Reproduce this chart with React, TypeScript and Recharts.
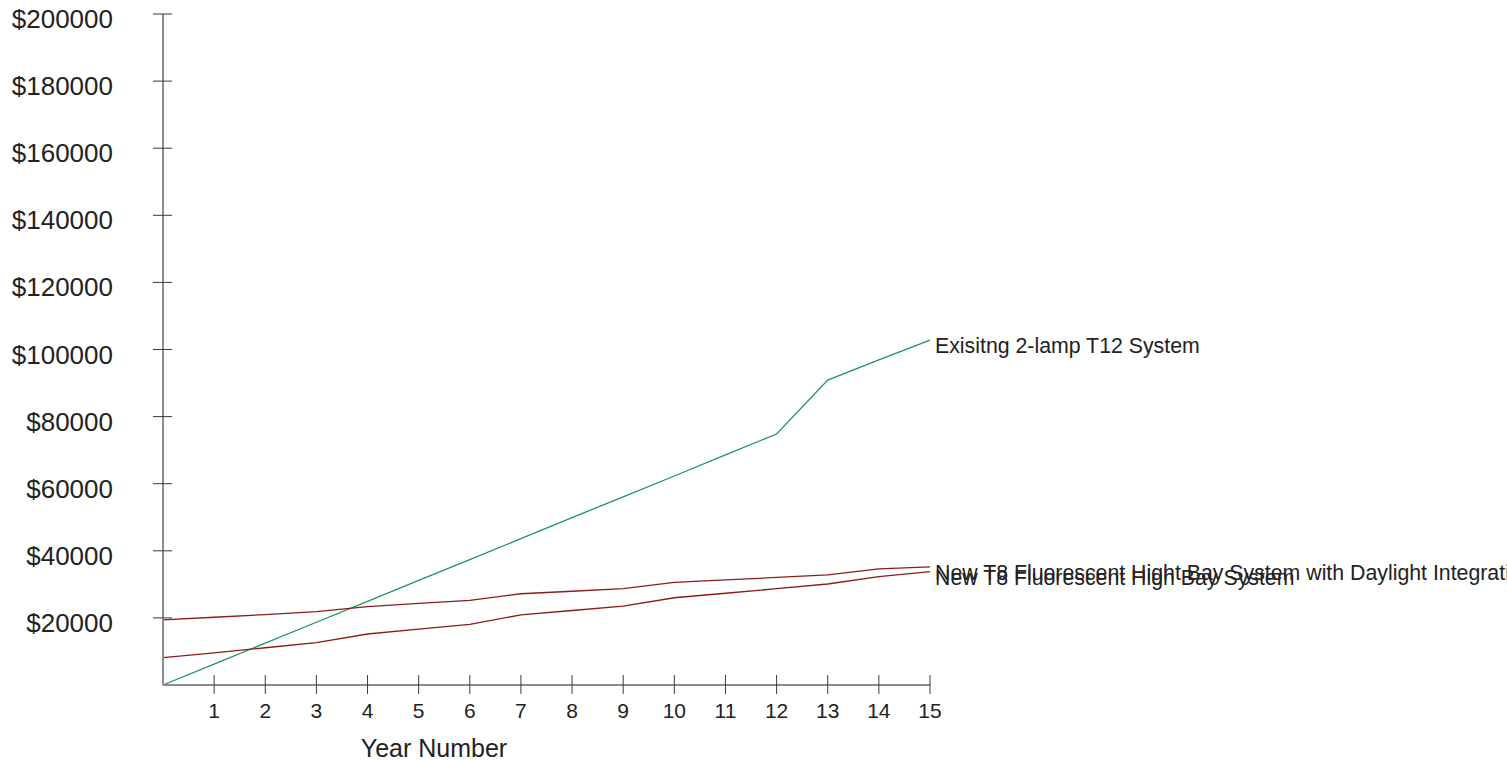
import { Label, Line, LineChart, XAxis, YAxis } from "recharts";

// colours
const C = {
  axis: "#8c8c8c",
  tick: "#3a3a3a",
  text: "#222222",
  green: "#23955a",
  red: "#8a1c1c",
};
const FONT = "'Liberation Sans', Arial, sans-serif";

const years = [0, 1, 2, 3, 4, 5, 6, 7, 8, 9, 10, 11, 12, 13, 14, 15];
const existingT12 = [
  0, 6200, 12500, 18700, 24900, 31200, 37400, 43600, 49900, 56100, 62300,
  68600, 74800, 90900, 96900, 102800,
];
const t8Daylight = [
  19400, 20200, 21000, 21850, 23350, 24300, 25250, 27200, 27950, 28700, 30600,
  31350, 32050, 32800, 34600, 35200,
];
const t8HighBay = [
  8150, 9600, 11100, 12600, 15200, 16650, 18100, 20900, 22200, 23500, 26000,
  27350, 28700, 30100, 32300, 33800,
];
const xTicks = [1, 2, 3, 4, 5, 6, 7, 8, 9, 10, 11, 12, 13, 14, 15];
const yTicks = [
  20000, 40000, 60000, 80000, 100000, 120000, 140000, 160000, 180000, 200000,
];

const seriesNames = {
  existing: "Exisitng 2-lamp T12 System",
  daylight: "New T8 Fluorescent Hight Bay System with Daylight Integration",
  highBay: "New T8 Fluorescent High Bay System",
};

const data = years.map((year, i) => ({
  year,
  existing: existingT12[i],
  daylight: t8Daylight[i],
  highBay: t8HighBay[i],
}));

function YTick({ x, y, payload }: any) {
  return (
    <g>
      <line x1={x - 10} x2={x + 9} y1={y} y2={y} stroke={C.tick} />
      <text
        x={x - 50}
        y={y + 14}
        textAnchor="end"
        fontSize={26}
        fontFamily={FONT}
        fill={C.text}
      >
        ${payload.value}
      </text>
    </g>
  );
}

function XTick({ x, y, payload }: any) {
  return (
    <g>
      <line x1={x} x2={x} y1={y - 10} y2={y + 9} stroke={C.tick} />
      <text
        x={x}
        y={y + 33}
        textAnchor="middle"
        fontSize={21}
        fontFamily={FONT}
        fill={C.text}
      >
        {payload.value}
      </text>
    </g>
  );
}

// label only at the last point of each line
const endLabel = (text: string) => (props: any) => {
  if (props.index !== years.length - 1) return null;
  return (
    <text
      key="end"
      x={props.x + 5}
      y={props.y + 13}
      fontSize={21.3}
      fontFamily={FONT}
      fill={C.text}
    >
      {text}
    </text>
  );
};

export default function App() {
  return (
    <div style={{ position: "fixed", left: 0, top: 0, background: "#fff" }}>
      <LineChart
        width={1507}
        height={761}
        data={data}
        margin={{ top: 14, right: 577, bottom: 0, left: 0 }}
      >
        <XAxis
          dataKey="year"
          type="number"
          domain={[0, 15]}
          ticks={xTicks}
          height={76}
          tickSize={0}
          tickMargin={0}
          tickLine={false}
          tick={<XTick />}
          stroke={C.axis}
          strokeWidth={2}
          interval={0}
        >
          <Label
            content={({ viewBox }: any) => (
              <text
                x={viewBox.x + 271}
                y={viewBox.y + 72}
                textAnchor="middle"
                fontSize={25}
                fontFamily={FONT}
                fill={C.text}
              >
                Year Number
              </text>
            )}
          />
        </XAxis>
        <YAxis
          type="number"
          domain={[0, 200000]}
          ticks={yTicks}
          width={163}
          tickSize={0}
          tickMargin={0}
          tickLine={false}
          tick={<YTick />}
          stroke={C.axis}
          strokeWidth={2}
          interval={0}
        />
        <Line
          type="linear"
          dataKey="existing"
          stroke={C.green}
          strokeWidth={1.3}
          dot={false}
          isAnimationActive={false}
          label={endLabel(seriesNames.existing)}
        />
        <Line
          type="linear"
          dataKey="daylight"
          stroke={C.red}
          strokeWidth={1.3}
          dot={false}
          isAnimationActive={false}
          label={endLabel(seriesNames.daylight)}
        />
        <Line
          type="linear"
          dataKey="highBay"
          stroke={C.red}
          strokeWidth={1.3}
          dot={false}
          isAnimationActive={false}
          label={endLabel(seriesNames.highBay)}
        />
      </LineChart>
    </div>
  );
}
